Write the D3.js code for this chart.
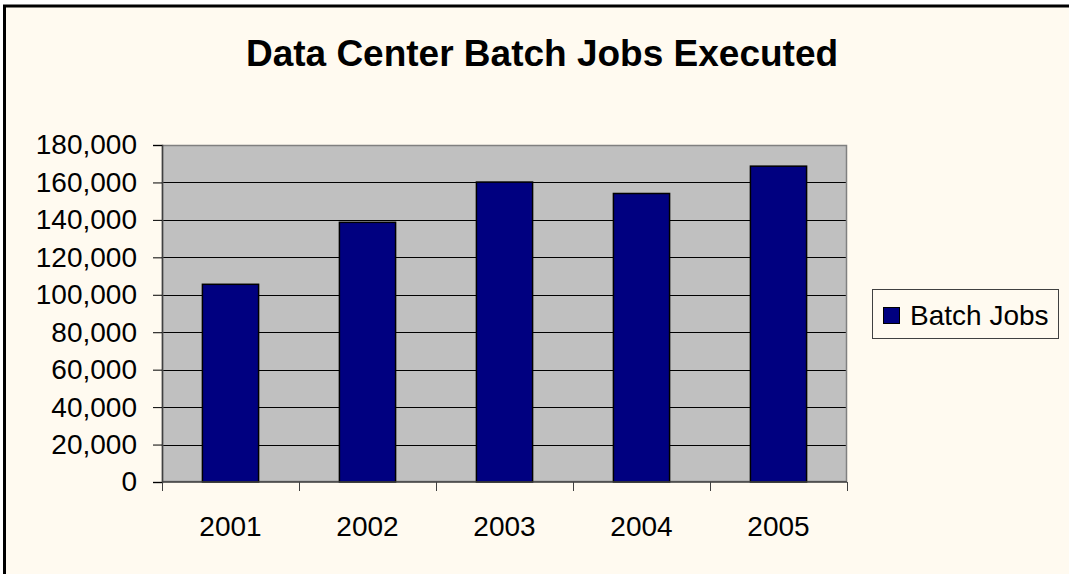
<!DOCTYPE html>
<html>
<head>
<meta charset="utf-8">
<script src="https://cdn.jsdelivr.net/npm/d3@7"></script>
<style>
   html, body { margin: 0; padding: 0; background: #ffffff; }
   svg { display: block; font-family: Arial, 'Liberation Sans', sans-serif; }
</style>
</head>
<body>
<div id="chart"></div>
<script>

// CHART DATA
var years = ['2001', '2002', '2003', '2004', '2005'];
var jobs = [105600, 138700, 160200, 154100, 168700];
var yTicks = [0, 20000, 40000, 60000, 80000, 100000, 120000, 140000, 160000, 180000];
var seriesName = 'Batch Jobs';
var title = 'Data Center Batch Jobs Executed';

// SETTINGS
var settings = {
   width: 1069,
   height: 574,
   plot: { left: 162, right: 847, top: 145, bottom: 482 },
   colors: { page: '#fffaf0', plot: '#c0c0c0', bar: '#000080', grid: '#000000', frame: '#808080' }
};

// GENERATE CANVAS
var canvas = d3.select('#chart').append('svg')
   .attr('width', settings.width)
   .attr('height', settings.height)

// OUTER CHART FRAME
canvas.append('rect')
   .attr('x', 4.5)
   .attr('y', 6)
   .attr('width', settings.width + 10)
   .attr('height', settings.height + 10)
   .attr('fill', settings.colors.page)
   .attr('stroke', '#000000')
   .attr('stroke-width', 3)

// TITLE
canvas.append('text')
   .attr('x', 542)
   .attr('y', 66)
   .attr('text-anchor', 'middle')
   .attr('font-size', 37)
   .attr('font-weight', 'bold')
   .attr('fill', '#000000')
   .text(title)

// X-SCALING
var xScale = d3.scaleBand()
   .domain(years)
   .range([settings.plot.left, settings.plot.right])
   .paddingInner(0.59)
   .paddingOuter(0.295)

// Y-SCALING
var yScale = d3.scaleLinear()
   .domain([0, 180000])
   .range([settings.plot.bottom, settings.plot.top])

// PLOT BACKGROUND
canvas.append('rect')
   .attr('x', settings.plot.left)
   .attr('y', settings.plot.top)
   .attr('width', settings.plot.right - settings.plot.left)
   .attr('height', settings.plot.bottom - settings.plot.top)
   .attr('fill', settings.colors.plot)

// GRIDLINES
canvas.selectAll('.grid')
   .data(yTicks.slice(1))
      .enter().append('line')
         .attr('class', 'grid')
         .attr('x1', settings.plot.left)
         .attr('x2', settings.plot.right)
         .attr('y1', d => Math.round(yScale(d)) + 0.5)
         .attr('y2', d => Math.round(yScale(d)) + 0.5)
         .attr('stroke', settings.colors.grid)
         .attr('stroke-width', 1)

// PLOT FRAME
canvas.append('rect')
   .attr('x', settings.plot.left + 0.5)
   .attr('y', settings.plot.top + 0.5)
   .attr('width', settings.plot.right - settings.plot.left - 1)
   .attr('height', settings.plot.bottom - settings.plot.top - 1)
   .attr('fill', 'none')
   .attr('stroke', settings.colors.frame)
   .attr('stroke-width', 1.5)

// BARS
canvas.selectAll('.bar')
   .data(jobs)
      .enter().append('rect')
         .attr('class', 'bar')
         .attr('x', (d, i) => xScale(years[i]))
         .attr('y', d => yScale(d))
         .attr('width', xScale.bandwidth())
         .attr('height', d => yScale(0) - yScale(d))
         .attr('fill', settings.colors.bar)
         .attr('stroke', '#000000')
         .attr('stroke-width', 1.5)

// Y-AXIS
var yAxis = d3.axisLeft(yScale)
   .tickValues(yTicks)
   .tickSize(9)
   .tickPadding(16)
   .tickFormat(d3.format(','))

var yg = canvas.append('g')
   .attr('transform', 'translate(' + settings.plot.left + ',0)')
   .call(yAxis)

yg.select('.domain').attr('stroke', '#404040').attr('stroke-width', 1.5)
yg.selectAll('.tick line').attr('stroke', '#000000')
yg.selectAll('.tick text')
   .attr('font-size', 28)
   .attr('font-family', "Arial, 'Liberation Sans', sans-serif")
   .attr('fill', '#000000')

// X-AXIS WITH TICKS ON CATEGORY BOUNDARIES
var xg = canvas.append('g')

xg.append('line')
   .attr('x1', settings.plot.left)
   .attr('x2', settings.plot.right)
   .attr('y1', settings.plot.bottom)
   .attr('y2', settings.plot.bottom)
   .attr('stroke', '#404040')
   .attr('stroke-width', 1.5)

var bounds = years.map(y => xScale(y) - xScale.step() * xScale.paddingOuter())
bounds.push(settings.plot.right)

xg.selectAll('.xtick')
   .data(bounds)
      .enter().append('line')
         .attr('class', 'xtick')
         .attr('x1', d => Math.round(d) + 0.5)
         .attr('x2', d => Math.round(d) + 0.5)
         .attr('y1', settings.plot.bottom)
         .attr('y2', settings.plot.bottom + 9)
         .attr('stroke', '#404040')
         .attr('stroke-width', 1)

xg.selectAll('.xlabel')
   .data(years)
      .enter().append('text')
         .attr('class', 'xlabel')
         .attr('x', d => xScale(d) + xScale.bandwidth() / 2)
         .attr('y', 536)
         .attr('text-anchor', 'middle')
         .attr('font-size', 28)
         .attr('fill', '#000000')
         .text(d => d)

// LEGEND
var legend = canvas.append('g')

legend.append('rect')
   .attr('x', 872.5)
   .attr('y', 289.5)
   .attr('width', 186)
   .attr('height', 49)
   .attr('fill', settings.colors.page)
   .attr('stroke', '#404040')
   .attr('stroke-width', 1)

legend.append('rect')
   .attr('x', 883.5)
   .attr('y', 307.5)
   .attr('width', 16)
   .attr('height', 16)
   .attr('fill', settings.colors.bar)
   .attr('stroke', '#000000')
   .attr('stroke-width', 1)

legend.append('text')
   .attr('x', 910)
   .attr('y', 325)
   .attr('font-size', 28)
   .attr('fill', '#000000')
   .text(seriesName)

</script>
</body>
</html>
